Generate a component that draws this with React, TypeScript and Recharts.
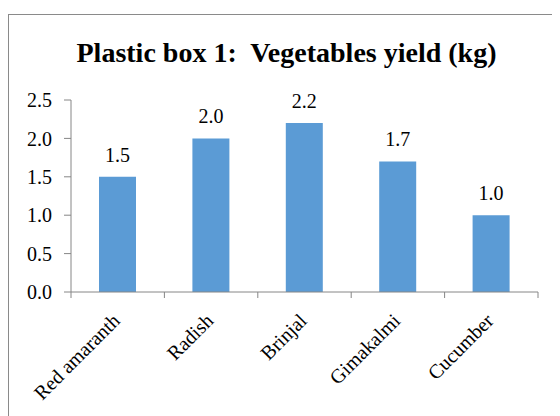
import React from 'react';
import { BarChart, Bar, XAxis, YAxis, LabelList } from 'recharts';

const categories = ['Red amaranth', 'Radish', 'Brinjal', 'Gimakalmi', 'Cucumber'];
const yields = [1.5, 2.0, 2.2, 1.7, 1.0];
const yTicks = [0, 0.5, 1.0, 1.5, 2.0, 2.5];
const title = 'Plastic box 1:  Vegetables yield (kg)';

const data = categories.map((name, i) => ({ name, value: yields[i] }));

const W = 552;
const H = 408;
const MARGIN = { top: 92, right: 22, left: 12, bottom: 0 };
const Y_W = 51;
const PLOT_W = W - MARGIN.left - MARGIN.right - Y_W;
const BAND = PLOT_W / categories.length;
const AXIS = '#868686';
const FONT = 'Liberation Serif, Times New Roman, serif';

const XTick = (props: any) => {
  const { x, y, index, payload } = props;
  const n = categories.length;
  const ax = x + 3.5;
  const ay = y + 30;
  return (
    <g>
      <line x1={x - BAND / 2} y1={y} x2={x - BAND / 2} y2={y + 6} stroke={AXIS} strokeWidth={1} />
      {index === n - 1 && (
        <line x1={x + BAND / 2} y1={y} x2={x + BAND / 2} y2={y + 6} stroke={AXIS} strokeWidth={1} />
      )}
      <text
        x={ax}
        y={ay}
        textAnchor="end"
        transform={`rotate(-45 ${ax} ${ay})`}
        style={{ fontFamily: FONT, fontSize: 20, fill: '#000' }}
      >
        {payload.value}
      </text>
    </g>
  );
};

export default function App() {
  return (
    <div style={{ position: 'relative', width: W, height: H, overflow: 'hidden', fontFamily: FONT }}>
      <div
        style={{
          position: 'absolute',
          left: 0,
          top: 6,
          width: 700,
          height: 600,
          border: '1px solid #8a8a8a',
          boxSizing: 'border-box',
        }}
      />
      <div
        style={{
          position: 'absolute',
          left: 0,
          top: 29,
          width: 557,
          textAlign: 'center',
          fontFamily: FONT,
          fontWeight: 'bold',
          fontSize: 28,
          color: '#000',
          whiteSpace: 'pre',
        }}
      >
        {title}
      </div>
      <div style={{ position: 'absolute', left: 0, top: 0 }}>
        <BarChart width={W} height={H} data={data} margin={MARGIN} barCategoryGap={0} style={{ fontFamily: FONT }}>
          <XAxis
            dataKey="name"
            axisLine={{ stroke: AXIS }}
            tickLine={false}
            tickSize={0}
            tickMargin={0}
            height={H - MARGIN.top - MARGIN.bottom - 192}
            interval={0}
            tick={<XTick />}
          />
          <YAxis
            width={Y_W}
            domain={[0, 2.5]}
            ticks={yTicks}
            tickFormatter={(v: number) => v.toFixed(1)}
            axisLine={{ stroke: AXIS }}
            tickLine={{ stroke: AXIS }}
            tickSize={7}
            tickMargin={12}
            tick={{ fontSize: 20, fill: '#000', style: { fontFamily: FONT } }}
            interval={0}
          />
          <Bar dataKey="value" fill="#5B9BD5" barSize={37} isAnimationActive={false}>
            <LabelList
              dataKey="value"
              position="top"
              offset={15}
              formatter={(v: number) => v.toFixed(1)}
              style={{ fontFamily: FONT, fontSize: 20, fill: '#000' }}
            />
          </Bar>
        </BarChart>
      </div>
    </div>
  );
}
